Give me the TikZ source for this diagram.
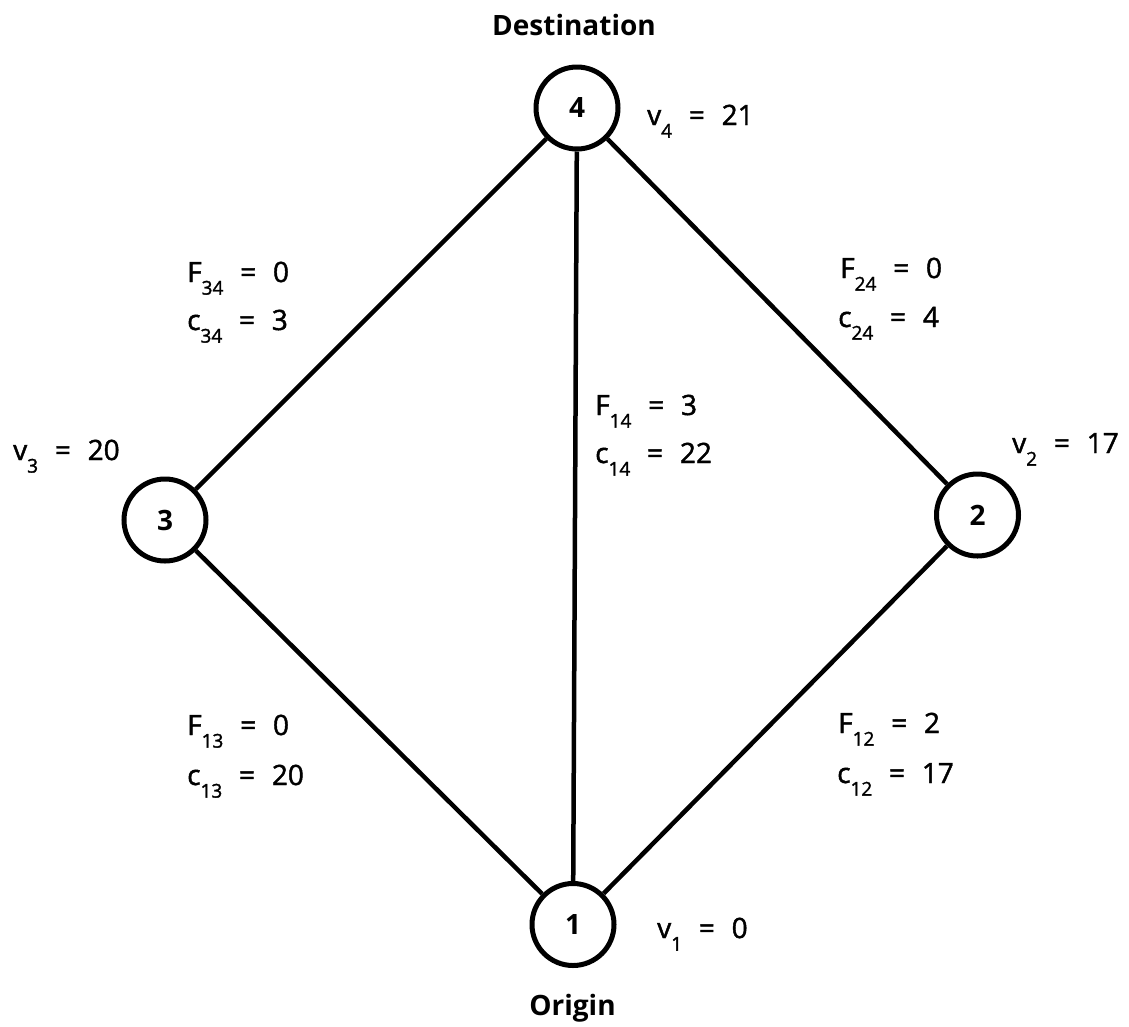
\documentclass[tikz,border=0pt]{standalone}
\usepackage{fontspec}
\setmainfont{Open Sans}
\newfontfamily\lblfont{Open Sans}[FakeBold=1.6]
\newcommand{\lsub}[1]{\raisebox{-0.45em}{\fontsize{19}{19}\selectfont #1}}
\newcommand{\eqs}{\hspace{0.6em}=\hspace{0.6em}}
\begin{document}
\begin{tikzpicture}[x=1pt,y=-1pt,
  vertex/.style={circle,draw,line width=5pt,minimum size=82pt,inner sep=0pt,
    font=\fontsize{28}{28}\selectfont\bfseries},
  lbl/.style={anchor=base west,inner sep=0pt,font=\fontsize{28}{28}\selectfont\lblfont},
  title/.style={anchor=base,inner sep=0pt,font=\fontsize{28}{28}\selectfont\bfseries},
  edge/.style={line width=4.5pt}]
\useasboundingbox (0,0) rectangle (1129,1026);
\node[vertex] (n4) at (577,108) {4};
\node[vertex] (n3) at (165,520) {3};
\node[vertex] (n2) at (977.5,515) {2};
\node[vertex] (n1) at (573,924.5) {1};
\draw[edge] (n4) -- (n3);
\draw[edge] (n4) -- (n2);
\draw[edge] (n4) -- (n1);
\draw[edge] (n3) -- (n1);
\draw[edge] (n2) -- (n1);
\node[title] (dest) at (574,35) {Destination};
\node[title] (orig) at (572.5,1015) {Origin};
\node[lbl] (v4) at (647,125) {v\lsub{4}\eqs 21};
\node[lbl] (v3) at (13,460) {v\lsub{3}\eqs 20};
\node[lbl] (v2) at (1012,453) {v\lsub{2}\eqs 17};
\node[lbl] (v1) at (657,938) {v\lsub{1}\eqs 0};
\node[lbl] (f34) at (187,282) {F\lsub{34}\eqs 0};
\node[lbl] (c34) at (187,330) {c\lsub{34}\eqs 3};
\node[lbl] (f24) at (840,278) {F\lsub{24}\eqs 0};
\node[lbl] (c24) at (838,327) {c\lsub{24}\eqs 4};
\node[lbl] (f14) at (595,415) {F\lsub{14}\eqs 3};
\node[lbl] (c14) at (595,463) {c\lsub{14}\eqs 22};
\node[lbl] (f13) at (187,735) {F\lsub{13}\eqs 0};
\node[lbl] (c13) at (187,785) {c\lsub{13}\eqs 20};
\node[lbl] (f12) at (838,733) {F\lsub{12}\eqs 2};
\node[lbl] (c12) at (837,783) {c\lsub{12}\eqs 17};
\end{tikzpicture}
\end{document}
